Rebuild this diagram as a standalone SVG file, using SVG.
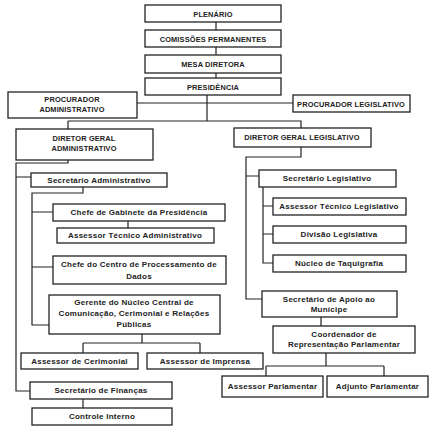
<svg xmlns="http://www.w3.org/2000/svg" width="432" height="434" viewBox="0 0 432 434">
<style>
.b{fill:#fff;stroke:#222;stroke-width:1.3}
.c{fill:none;stroke:#222;stroke-width:1.2}
text{font-family:"Liberation Sans",Arial,sans-serif;font-weight:bold;fill:#222;text-anchor:middle}
.u{font-size:7.4px;letter-spacing:0.15px}
.l{font-size:8px;letter-spacing:0.25px}
</style>
<rect width="432" height="434" fill="#fff"/>
<g id="connectors">
<path class="c" d="M216 22V30M216 47V55M216 73V78M207 95V121M137 103H293M68 121H301V128M68 121V129"/>
<path class="c" d="M68 160V163H16V391H30M16 177H31"/>
<path class="c" d="M83 187V193H32V325H49M32 212H53M32 267H53M128 221V228"/>
<path class="c" d="M142 334V343M83 343H200M83 343V353M200 343V353"/>
<path class="c" d="M83 399V408"/>
<path class="c" d="M301 147V157H246V299H262M246 176H259"/>
<path class="c" d="M263 187V263H273M263 206H273M263 234H273"/>
<path class="c" d="M321 317V326M326 353V366M266 366H384M266 366V376M384 366V376"/>
</g>
<g id="plenario"><rect class="b" x="145" y="5" width="136" height="17"/><text class="u" x="213" y="16.5">PLENÁRIO</text></g>
<g id="comissoes"><rect class="b" x="145" y="30" width="136" height="17"/><text class="u" x="213" y="41.5">COMISSÕES PERMANENTES</text></g>
<g id="mesa"><rect class="b" x="145" y="55" width="136" height="18"/><text class="u" x="213" y="66.5">MESA DIRETORA</text></g>
<g id="presidencia"><rect class="b" x="145" y="78" width="136" height="17"/><text class="u" x="213" y="89.5">PRESIDÊNCIA</text></g>
<g id="proc-adm"><rect class="b" x="8" y="92" width="129" height="26"/><text class="u" x="72" y="102">PROCURADOR</text><text class="u" x="72" y="112">ADMINISTRATIVO</text></g>
<g id="proc-leg"><rect class="b" x="293" y="95" width="117" height="17"/><text class="u" x="351" y="106.5">PROCURADOR LEGISLATIVO</text></g>
<g id="dir-adm"><rect class="b" x="16" y="129" width="137" height="31"/><text class="u" x="84" y="141">DIRETOR GERAL</text><text class="u" x="84" y="151">ADMINISTRATIVO</text></g>
<g id="dir-leg"><rect class="b" x="234" y="128" width="137" height="19"/><text class="u" x="302" y="140">DIRETOR GERAL LEGISLATIVO</text></g>
<g id="sec-adm"><rect class="b" x="31" y="173" width="136" height="14"/><text class="l" x="99" y="182.8">Secretário Administrativo</text></g>
<g id="chefe-gab"><rect class="b" x="53" y="204" width="172" height="17"/><text class="l" x="139" y="215.3">Chefe de Gabinete da Presidência</text></g>
<g id="assessor-tec-adm"><rect class="b" x="57" y="228" width="157" height="15"/><text class="l" x="135" y="238.3">Assessor Técnico Administrativo</text></g>
<g id="chefe-cpd"><rect class="b" x="53" y="256" width="173" height="28"/><text class="l" x="139" y="267">Chefe do Centro de Processamento de</text><text class="l" x="139" y="278.5">Dados</text></g>
<g id="gerente"><rect class="b" x="49" y="295" width="171" height="39"/><text class="l" x="134" y="305">Gerente do Núcleo Central de</text><text class="l" x="134" y="315.8">Comunicação, Cerimonial e Relações</text><text class="l" x="134" y="326.5">Públicas</text></g>
<g id="ass-cerimonial"><rect class="b" x="21" y="353" width="117" height="16"/><text class="l" x="79.5" y="363.8">Assessor de Cerimonial</text></g>
<g id="ass-imprensa"><rect class="b" x="147" y="353" width="116" height="16"/><text class="l" x="205" y="363.8">Assessor de Imprensa</text></g>
<g id="sec-financas"><rect class="b" x="30" y="382" width="142" height="17"/><text class="l" x="101" y="393.3">Secretário de Finanças</text></g>
<g id="controle"><rect class="b" x="32" y="408" width="140" height="17"/><text class="l" x="102" y="419.3">Controle Interno</text></g>
<g id="sec-leg"><rect class="b" x="259" y="170" width="137" height="17"/><text class="l" x="327" y="181.3">Secretário Legislativo</text></g>
<g id="ass-tec-leg"><rect class="b" x="273" y="198" width="133" height="17"/><text class="l" x="339" y="209.3">Assessor Técnico Legislativo</text></g>
<g id="divisao"><rect class="b" x="273" y="226" width="133" height="17"/><text class="l" x="339" y="237.3">Divisão Legislativa</text></g>
<g id="taquigrafia"><rect class="b" x="273" y="255" width="133" height="17"/><text class="l" x="339" y="266.3">Núcleo de Taquigrafia</text></g>
<g id="sec-apoio"><rect class="b" x="262" y="291" width="135" height="26"/><text class="l" x="329" y="301.5">Secretário de Apoio ao</text><text class="l" x="329" y="312.3">Munícipe</text></g>
<g id="coordenador"><rect class="b" x="273" y="326" width="142" height="27"/><text class="l" x="344" y="336.5">Coordenador de</text><text class="l" x="344" y="347.3">Representação Parlamentar</text></g>
<g id="ass-parl"><rect class="b" x="222" y="376" width="101" height="21"/><text class="l" x="272.5" y="389">Assessor Parlamentar</text></g>
<g id="adj-parl"><rect class="b" x="327" y="376" width="101" height="21"/><text class="l" x="377.5" y="389">Adjunto Parlamentar</text></g>
</svg>
